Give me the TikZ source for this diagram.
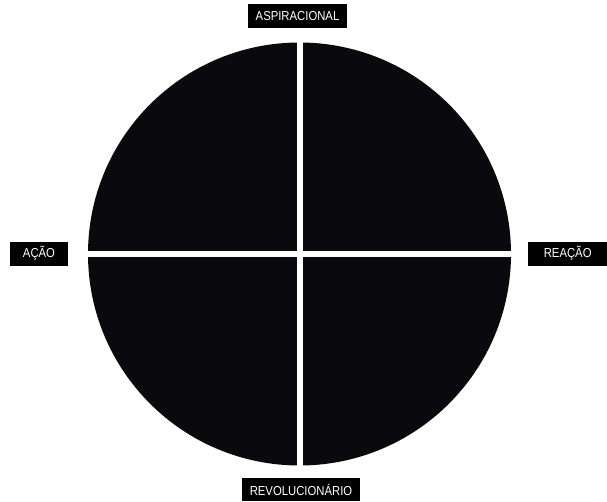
\documentclass[tikz,border=0pt]{standalone}
\usepackage{fontspec}
\setmainfont{Liberation Sans}[FakeStretch=0.87]
\usepackage{tikz}
\usetikzlibrary{positioning}
\definecolor{quadblack}{RGB}{10,10,14}
\tikzset{
  tag/.style={rectangle, fill=black, text=white, inner sep=0pt,
    minimum height=24pt, font=\fontsize{13}{15}\selectfont},
  gap/.style={fill=white}
}

\begin{document}
\begin{tikzpicture}[x=1pt, y=-1pt]
  \useasboundingbox (0,0) rectangle (607,501);
  % disc split into four quadrants
  \coordinate (c) at (299.5, 254);
  \fill[quadblack] (c) circle (211.5);
  \fill[gap] (296.5, 30) rectangle (302.5, 480);
  \fill[gap] (70, 250.5) rectangle (530, 256.5);

  % axis labels
  \node[tag, minimum width=99pt] (asp) at (297.5, 16) {ASPIRACIONAL};
  \node[tag, minimum width=58pt] (acao) at (39, 253.5) {AÇÃO};
  \node[tag, minimum width=79pt, anchor=west] (reacao) at (528, 253.5) {REAÇÃO};
  \node[tag, minimum width=118pt, minimum height=23pt] (rev) at (301, 489.5) {REVOLUCIONÁRIO};
\end{tikzpicture}
\end{document}
